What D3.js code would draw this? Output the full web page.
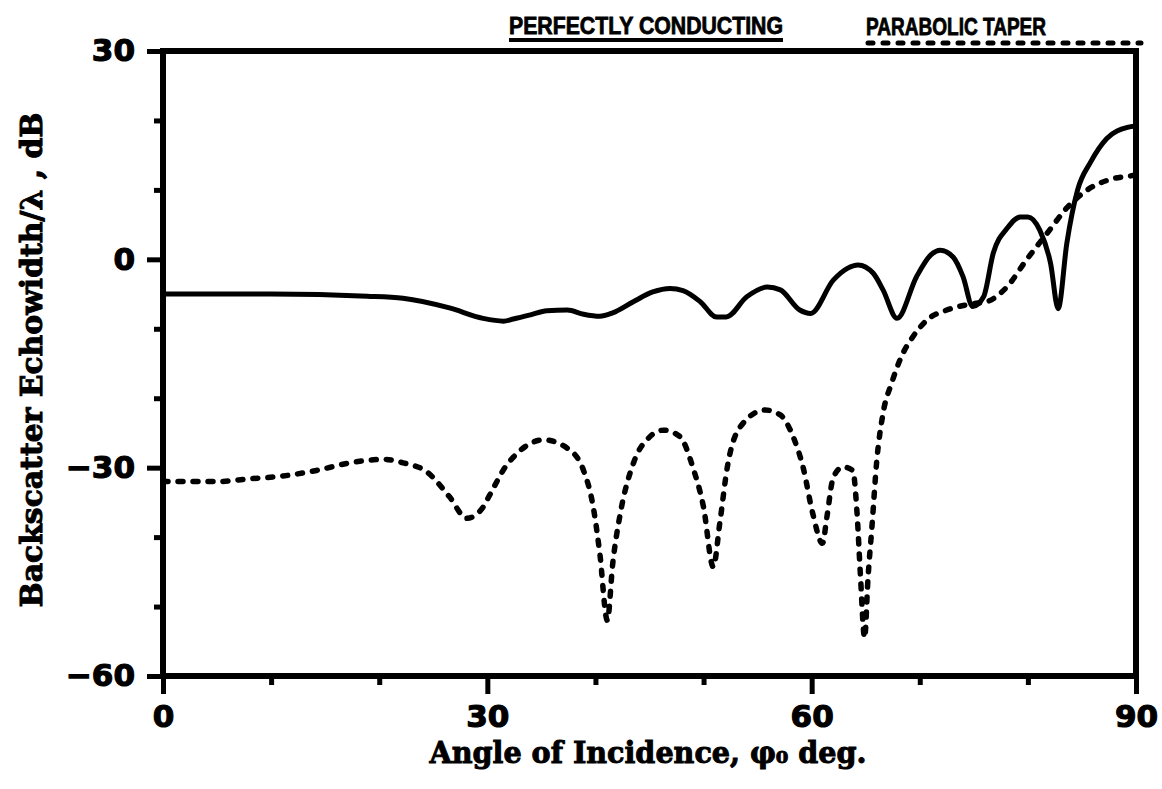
<!DOCTYPE html>
<html>
<head>
<meta charset="utf-8">
<script src="https://cdn.jsdelivr.net/npm/d3@7"></script>
<style>
  body { margin: 0; background: #fff; }
  svg { display: block; }
  .tick text { font-family: "DejaVu Sans", sans-serif; font-weight: bold; font-size: 31px; fill: #000; stroke: #000; stroke-width: 1.2px; }
  .title { font-family: "DejaVu Serif", serif; font-weight: bold; font-size: 30px; fill: #000; stroke: #000; stroke-width: 1px; }
  .legend { font-family: "Liberation Sans", Arial, sans-serif; font-weight: bold; font-size: 24px; fill: #000; stroke: #000; stroke-width: 0.8px; }
</style>
</head>
<body>
<svg id="chart" width="1162" height="789"></svg>
<script>
// Backscatter echowidth vs angle of incidence

// perfectly conducting strip (solid)
const pcAngle = [0, 10, 18.9, 22.2, 26.5, 29.6, 31.5, 32.4, 34.0, 35.5, 37.4, 38.9, 40.4, 41.6,
  43.5, 45.3, 46.9, 48.1, 49.7, 51.2, 52.1, 54.0, 55.9, 57.1, 58.9, 59.9, 62.0, 63.3, 64.3,
  65.7, 66.6, 67.9, 69.7, 71.0, 71.9, 73.1, 74.0, 74.9, 75.9, 76.8, 78.1, 79.3, 80.0, 81.1,
  82.1, 82.8, 83.6, 84.6, 85.8, 87.3, 89.2, 90];
const pcDb = [-5.0, -5.0, -5.3, -5.6, -7.0, -8.5, -8.9, -8.6, -8.0, -7.4, -7.3, -7.9, -8.2, -7.7,
  -6.1, -4.7, -4.2, -4.5, -6.1, -8.3, -8.3, -5.4, -4.0, -4.4, -7.3, -7.8, -3.0, -1.3, -0.8,
  -2.0, -4.4, -8.5, -2.5, 0.6, 1.3, 0.3, -2.5, -6.8, -5.4, 0.9, 4.5, 6.1, 6.1, 4.2,
  -0.6, -7.1, 2.3, 10.0, 14.0, 17.4, 19.0, 19.2];

// parabolic taper (dotted)
const ptAngle = [0, 5.0, 8.0, 11.1, 14.2, 17.3, 20.4, 22.2, 24.4, 26.5, 28.1, 29.6, 30.2, 31.8,
  32.4, 35.2, 37.4, 38.9, 39.8, 40.4, 41.1, 41.6, 42.3, 43.5, 45.0, 46.3, 47.8, 49.0, 50.0,
  50.9, 51.5, 52.2, 53.4, 55.7, 57.1, 58.3, 59.2, 60.1, 61.0, 61.4, 62.0, 62.9, 63.8, 64.2,
  64.5, 64.9, 65.2, 65.6, 66.0, 66.6, 67.4, 68.3, 69.3, 70.7, 72.5, 74.9, 76.2, 78.1, 79.9,
  81.8, 83.6, 85.5, 87.6, 89.4, 90];
const ptDb = [-32.0, -32.0, -31.6, -31.2, -30.4, -29.3, -28.8, -29.3, -30.6, -34.2, -37.3, -35.7, -34.0, -29.6,
  -28.5, -26.0, -27.2, -30.4, -35.7, -42.3, -52.0, -43.8, -36.6, -29.4, -25.6, -24.6, -25.5, -29.9, -35.7,
  -44.3, -38.0, -29.9, -24.1, -21.7, -22.4, -25.6, -29.9, -36.6, -40.9, -37.2, -31.4, -29.9, -30.4, -36.6,
  -45.2, -54.5, -46.2, -38.0, -29.4, -22.2, -17.8, -14.0, -11.3, -8.7, -7.3, -6.4, -6.1, -3.9, 0.0,
  3.8, 7.4, 10.0, 11.5, 12.0, 12.1];

const xMajor = [0, 30, 60, 90];
const xMinor = [10, 20, 40, 50, 70, 80];
const yMajor = [30, 0, -30, -60];
const yMinor = [20, 10, -10, -20, -40, -50];

const xTitle = 'Angle of Incidence, \u03c6\u2080 deg.';
const yTitle = 'Backscatter Echowidth/\u03bb , dB';
const legendNames = ['PERFECTLY CONDUCTING', 'PARABOLIC TAPER'];

const margin = {top: 51, left: 163};
const width = 973, height = 625;

const svg = d3.select('#chart');
const g = svg.append('g').attr('transform', `translate(${margin.left},${margin.top})`);

const x = d3.scaleLinear().domain([0, 90]).range([0, width]);
const y = d3.scaleLinear().domain([-60, 30]).range([height, 0]);

// minor ticks
g.append('g')
  .attr('transform', `translate(0,${height})`)
  .call(d3.axisBottom(x).tickValues(xMinor).tickSize(9).tickFormat(''));
g.append('g')
  .call(d3.axisLeft(y).tickValues(yMinor).tickSize(9).tickFormat(''));

// major ticks + labels
g.append('g')
  .attr('transform', `translate(0,${height})`)
  .call(d3.axisBottom(x).tickValues(xMajor).tickSize(18).tickPadding(11).tickFormat(d3.format('d')));
g.append('g')
  .call(d3.axisLeft(y).tickValues(yMajor).tickSize(16).tickPadding(12).tickFormat(d3.format('d')));

g.selectAll('.domain').remove();
g.selectAll('.tick line').attr('stroke', '#000').attr('stroke-width', 5);

// frame
g.append('rect')
  .attr('width', width).attr('height', height)
  .attr('fill', 'none').attr('stroke', '#000').attr('stroke-width', 6);

const line = d3.line().curve(d3.curveMonotoneX);

g.append('path')
  .attr('d', line(pcAngle.map((a, i) => [x(a), y(pcDb[i])])))
  .attr('fill', 'none').attr('stroke', '#000').attr('stroke-width', 5)
  .attr('stroke-linejoin', 'round');

g.append('path')
  .attr('d', line(ptAngle.map((a, i) => [x(a), y(ptDb[i])])))
  .attr('fill', 'none').attr('stroke', '#000').attr('stroke-width', 5.5)
  .attr('stroke-linecap', 'round').attr('stroke-dasharray', '5 10');

// axis titles
svg.append('text').attr('class', 'title')
  .attr('x', 648).attr('y', 763)
  .attr('text-anchor', 'middle')
  .attr('textLength', 437).attr('lengthAdjust', 'spacingAndGlyphs')
  .text(xTitle);

svg.append('text').attr('class', 'title')
  .attr('transform', 'translate(42,360) rotate(-90)')
  .attr('text-anchor', 'middle')
  .attr('textLength', 495).attr('lengthAdjust', 'spacingAndGlyphs')
  .text(yTitle);

// legend along the top
svg.append('text').attr('class', 'legend')
  .attr('x', 509).attr('y', 34)
  .attr('textLength', 274).attr('lengthAdjust', 'spacingAndGlyphs')
  .text(legendNames[0]);
svg.append('line')
  .attr('x1', 509).attr('x2', 783).attr('y1', 40).attr('y2', 40)
  .attr('stroke', '#000').attr('stroke-width', 4);

svg.append('text').attr('class', 'legend')
  .attr('x', 866).attr('y', 35)
  .attr('textLength', 180).attr('lengthAdjust', 'spacingAndGlyphs')
  .text(legendNames[1]);
svg.append('line')
  .attr('x1', 868).attr('x2', 1141).attr('y1', 43).attr('y2', 43)
  .attr('stroke', '#000').attr('stroke-width', 5)
  .attr('stroke-linecap', 'round').attr('stroke-dasharray', '5 10');
</script>
</body>
</html>
